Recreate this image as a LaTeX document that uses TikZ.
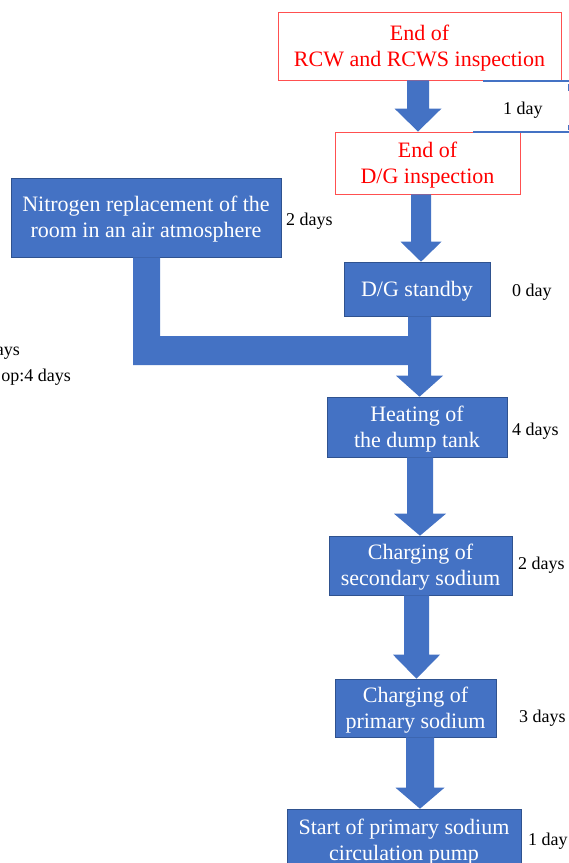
\documentclass[tikz,border=0pt]{standalone}
\usepackage{fontspec}
\setmainfont{Liberation Serif}
\usetikzlibrary{calc}
\definecolor{boxblue}{HTML}{4472C4}
\definecolor{boxedge}{HTML}{2F528F}
\definecolor{redline}{HTML}{FF5050}
\tikzset{
  bluebox/.style={fill=boxblue, draw=boxedge, line width=0.6pt, inner sep=0pt},
  redbox/.style={fill=white, draw=redline, line width=0.9pt, inner sep=0pt},
  bluetext/.style={text=white, align=center, inner sep=0pt, font=\fontsize{22}{26}\selectfont},
  redtext/.style={text=red, align=center, inner sep=0pt, font=\fontsize{22}{26}\selectfont},
  daylabel/.style={inner sep=0pt, font=\fontsize{18}{21}\selectfont, text=black},
  arrowfill/.style={fill=boxblue},
}
% box with its text: #1 kind (blue/red), #2 name, #3 x, #4 y, #5 width, #6 height, #7 text
\newcommand\flowbox[7]{%
  \node[#1box, minimum width=#5pt, minimum height=#6pt] (#2) at (#3,#4) {};
  \node[#1text] (#2-t) at ([yshift=-2pt]#2.center) {#7};}
% block arrow: #1 source node, #2 target node, #3 centre x, #4 half shaft, #5 half head, #6 head length
\newcommand\blockarr[6]{%
  \fill[arrowfill] (#3-#4,0 |- #1.south) -- (#3+#4,0 |- #1.south)
    -- ($(#3+#4,0 |- #2.north)+(0,-#6)$) -- ($(#3+#5,0 |- #2.north)+(0,-#6)$)
    -- (#3,0 |- #2.north)
    -- ($(#3-#5,0 |- #2.north)+(0,-#6)$) -- ($(#3-#4,0 |- #2.north)+(0,-#6)$) -- cycle;}
\begin{document}
\begin{tikzpicture}[x=1pt,y=-1pt]
\path[use as bounding box, clip] (0,0) rectangle (569,863);
\fill[white] (0,0) rectangle (569,863);

% boxes
\flowbox{red}{rcw}{419.5}{46}{283}{68}{End of\\RCW and RCWS inspection}
\flowbox{red}{dgi}{427.5}{163}{185}{62}{End of\\D/G inspection}
\flowbox{blue}{nitro}{146}{217.5}{270}{79}{Nitrogen replacement of the\\room in an air atmosphere}
\flowbox{blue}{dgs}{417}{289}{146}{54}{D/G standby}
\flowbox{blue}{heat}{417}{427}{180}{60}{Heating of\\the dump tank}
\flowbox{blue}{chs}{420.5}{565.5}{183}{59}{Charging of\\secondary sodium}
\flowbox{blue}{chp}{415.5}{708}{161}{58}{Charging of\\primary sodium}
\flowbox{blue}{start}{404}{840}{234}{62}{Start of primary sodium\\circulation pump}

% bracket fragment at the top right
\coordinate (brA) at (483,81);
\coordinate (brB) at (569,81);
\coordinate (brC) at (473,132);
\coordinate (brD) at (569,132);
\draw[boxblue, line width=1.5pt] (brA) -- (brB);
\draw[boxblue, line width=1.5pt] (brC) -- (brD);
\draw[boxblue, line width=1pt] (568,84) -- (568,91);
\draw[boxblue, line width=1pt] (568,125) -- (568,130);

% arrows
\blockarr{rcw}{dgi}{418}{11}{23.5}{23}
\blockarr{dgi}{dgs}{421}{10}{20.5}{20}
\blockarr{dgs}{heat}{419.5}{11.5}{23.5}{21}
\fill[arrowfill] (133,0 |- nitro.south) -- (160,0 |- nitro.south) -- (160,336) -- (409,336) -- (409,365) -- (133,365) -- cycle;
\blockarr{heat}{chs}{420}{13}{26}{22}
\blockarr{chs}{chp}{416.5}{12.5}{23.5}{24}
\blockarr{chp}{start}{420}{14}{24.5}{21}

% day labels
\node[daylabel, anchor=west] (l1) at (503,110) {1 day};
\node[daylabel, anchor=west] (l2) at (286,221) {2 days};
\node[daylabel, anchor=west] (l3) at (512,292) {0 day};
\node[daylabel, anchor=west] (l4) at (512,431) {4 days};
\node[daylabel, anchor=west] (l5) at (518,565) {2 days};
\node[daylabel, anchor=west] (l6) at (519,718) {3 days};
\node[daylabel, anchor=west] (l7) at (528,841) {1 day};
\node[daylabel, anchor=east] (l8) at (20,353) {ays};
\node[daylabel, anchor=east] (l9) at (71,377) {op:4 days};
\end{tikzpicture}
\end{document}
